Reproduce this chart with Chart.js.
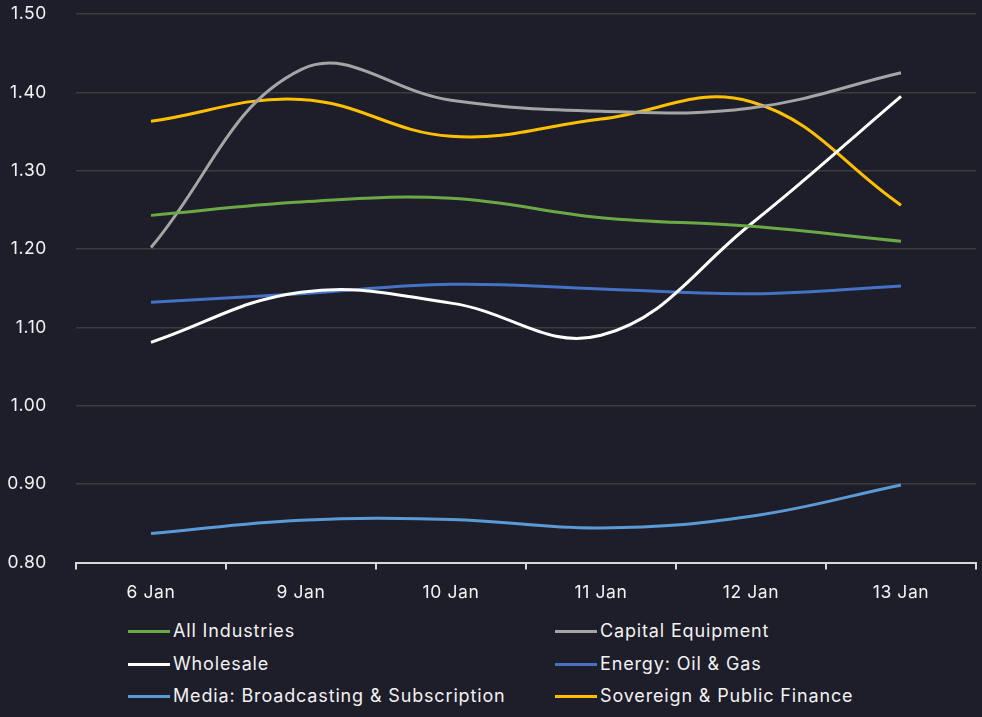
<!DOCTYPE html>
<html lang="en">
<head>
    <meta charset="UTF-8">
    <title>Industries</title>
    <script src="https://cdn.jsdelivr.net/npm/chart.js"></script>
    <style>
        html, body {
            margin: 0;
            padding: 0;
            background: #1e1d2a;
            font-family: Inter, "Noto Sans", sans-serif;
            color: #f2f2f2;
        }
        #wrap {
            position: relative;
            width: 982px;
            height: 717px;
        }
        #box {
            position: absolute;
            left: 0;
            top: 0;
            width: 982px;
            height: 612px;
        }
        #legend {
            position: absolute;
            left: 0;
            top: 614px;
            width: 982px;
        }
        .item {
            position: absolute;
            height: 24px;
            line-height: 24px;
            font-size: 18px;
            letter-spacing: 0.85px;
            white-space: nowrap;
        }
        .item span.swatch {
            display: inline-block;
            width: 42px;
            height: 3px;
            vertical-align: middle;
            margin-right: 3px;
            position: relative;
            top: -1px;
        }
    </style>
</head>
<body>
<div id="wrap">
    <div id="box"><canvas id="graphique"></canvas></div>
    <div id="legend"></div>
</div>
<script>
    // Données
    const jours = ['6 Jan', '9 Jan', '10 Jan', '11 Jan', '12 Jan', '13 Jan'];

    const allIndustries    = [1.243, 1.260, 1.265, 1.240, 1.229, 1.210];
    const capitalEquipment = [1.202, 1.429, 1.390, 1.376, 1.380, 1.425];
    const wholesale        = [1.081, 1.145, 1.131, 1.090, 1.232, 1.395];
    const energyOilGas     = [1.132, 1.143, 1.155, 1.149, 1.143, 1.153];
    const media            = [0.837, 0.854, 0.855, 0.844, 0.859, 0.899];
    const sovereign        = [1.363, 1.391, 1.344, 1.366, 1.388, 1.256];

    const yTicks = [0.80, 0.90, 1.00, 1.10, 1.20, 1.30, 1.40, 1.50];

    const series = [
        { label: 'All Industries', data: allIndustries, color: '#6aa944' },
        { label: 'Capital Equipment', data: capitalEquipment, color: '#a5a5a5' },
        { label: 'Wholesale', data: wholesale, color: '#ffffff' },
        { label: 'Energy: Oil & Gas', data: energyOilGas, color: '#4472c4' },
        { label: 'Media: Broadcasting & Subscription', data: media, color: '#5b9bd5' },
        { label: 'Sovereign & Public Finance', data: sovereign, color: '#ffc000' }
    ];

    Chart.defaults.font.family = 'Inter, "Noto Sans", sans-serif';
    Chart.defaults.font.size = 17.5;
    Chart.defaults.color = '#f2f2f2';

    // un peu d'espacement entre les lettres, comme la police d'origine
    const espacement = {
        id: 'espacement',
        beforeDraw: chart => { chart.ctx.letterSpacing = '0.6px'; }
    };

    const ctx = document.getElementById('graphique').getContext('2d');
    const myChart = new Chart(ctx, {
        type: 'line',
        data: {
            labels: jours,
            datasets: series.map(s => ({
                label: s.label,
                data: s.data,
                borderColor: s.color,
                backgroundColor: s.color,
                borderWidth: 3,
                pointRadius: 0,
                tension: 0.4,
                fill: false
            }))
        },
        plugins: [espacement],
        options: {
            responsive: true,
            maintainAspectRatio: false,
            animation: false,
            layout: { padding: { top: 14, right: 6, left: 0, bottom: 0 } },
            plugins: {
                legend: { display: false },
                tooltip: { enabled: false }
            },
            scales: {
                x: {
                    offset: true,
                    grid: {
                        offset: true,
                        drawOnChartArea: false,
                        drawTicks: true,
                        tickLength: 7,
                        color: '#d9d9d9',
                        lineWidth: 2
                    },
                    border: { color: '#d9d9d9', width: 2 },
                    ticks: { padding: 13, maxRotation: 0 },
                    afterFit: scale => {
                        scale.height = 49.5;
                        scale.paddingLeft = 0;
                        scale.paddingRight = 0;
                    }
                },
                y: {
                    min: 0.8,
                    max: 1.5,
                    afterBuildTicks: scale => {
                        scale.ticks = yTicks.map(v => ({ value: v }));
                    },
                    ticks: {
                        padding: 29,
                        callback: v => v.toFixed(2)
                    },
                    grid: {
                        color: '#3d3c3a',
                        lineWidth: 1.5,
                        drawTicks: false
                    },
                    border: { display: false },
                    afterFit: scale => {
                        scale.width = 76;
                        scale.paddingTop = 0;
                        scale.paddingBottom = 0;
                    }
                }
            }
        }
    });

    // Légende en deux colonnes
    const legend = document.getElementById('legend');
    const colX = [128, 555];
    const rowY = [5, 38, 70];
    series.forEach((s, i) => {
        const div = document.createElement('div');
        div.className = 'item';
        div.style.left = colX[i % 2] + 'px';
        div.style.top = rowY[Math.floor(i / 2)] + 'px';
        div.innerHTML = '<span class="swatch" style="background:' + s.color + '"></span>';
        div.appendChild(document.createTextNode(s.label));
        legend.appendChild(div);
    });
</script>
</body>
</html>
